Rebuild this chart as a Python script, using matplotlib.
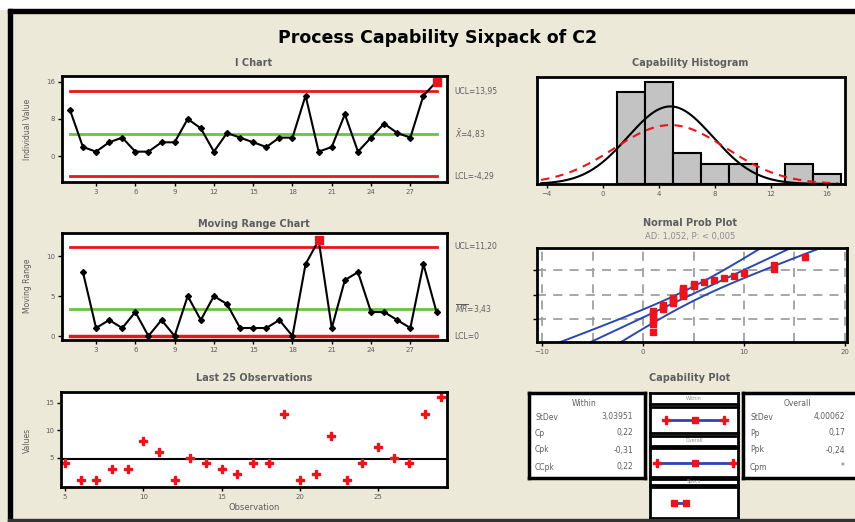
import numpy as np
import matplotlib.pyplot as plt
from matplotlib.patches import Rectangle
from statistics import NormalDist

# ----------------------------
# Data
# ----------------------------
values = [10, 2, 1, 3, 4, 1, 1, 3, 3, 8, 6, 1, 5, 4, 3, 2, 4, 4, 13, 1, 2, 9, 1, 4, 7, 5, 4, 13, 16]
lsl, usl = -2, 2
ad_text = 'AD: 1,052, P: < 0,005'

i_ticks = [0, 8, 16]
mr_ticks = [0, 5, 10]
obs_ticks = [3, 6, 9, 12, 15, 18, 21, 24, 27]
last_xticks = [5, 10, 15, 20, 25]
last_yticks = [5, 10, 15]
hist_ticks = [-4, 0, 4, 8, 12, 16]
npp_ticks = [-10, 0, 10, 20]
npp_grid_x = [-10, -5, 0, 5, 10, 15, 20]
npp_grid_p = [0.1, 0.5, 0.9]

# ----------------------------
# Statistics
# ----------------------------
x = np.array(values, dtype=float)
n = len(x)
obs = np.arange(1, n + 1)
mean = x.mean()
mr = np.abs(np.diff(x))
mr_bar = mr.mean()
ucl_i = mean + 2.66 * mr_bar
lcl_i = mean - 2.66 * mr_bar
ucl_mr = 3.267 * mr_bar
sd_w = mr_bar / 1.128
sd_o = x.std(ddof=1)


def fmt(v, d=2):
    return f"{v:.{d}f}".replace('.', ',')


cp = (usl - lsl) / (6 * sd_w)
cpk = min(usl - mean, mean - lsl) / (3 * sd_w)
target = (usl + lsl) / 2
ccpk = min(usl - target, target - lsl) / (3 * sd_w)
pp = (usl - lsl) / (6 * sd_o)
ppk = min(usl - mean, mean - lsl) / (3 * sd_o)
within_rows = [('StDev', fmt(sd_w, 5)), ('Cp', fmt(cp)), ('Cpk', fmt(cpk)), ('CCpk', fmt(ccpk))]
overall_rows = [('StDev', fmt(sd_o, 5)), ('Pp', fmt(pp)), ('Ppk', fmt(ppk)), ('Cpm', '*')]

# ----------------------------
# Figure
# ----------------------------
W, H = 855, 522
BG = '#ECE9D8'
RED = '#E8141E'
GREEN = '#6CC23F'
BLUE = '#2A48B0'
GRAY = '#5E5E5E'

fig = plt.figure(figsize=(W / 100, H / 100), dpi=100, facecolor=BG)


def box(l, t, r, b):
    return fig.add_axes([l / W, 1 - b / H, (r - l) / W, (b - t) / H])


def ftext(px, py, s, **kw):
    kw.setdefault('color', GRAY)
    kw.setdefault('fontsize', 5.5)
    return fig.text(px / W, 1 - py / H, s, **kw)


def style(ax, lw=2.0):
    for s in ax.spines.values():
        s.set_linewidth(lw)
        s.set_color('black')
    ax.tick_params(labelsize=5, labelcolor=GRAY, color='black', length=3, width=1, pad=2)


# outer frame
fig.patches.append(Rectangle((0, 1 - 9 / H), 1, 9 / H, transform=fig.transFigure, color='white', zorder=0))
fig.patches.append(Rectangle((8 / W, 1 - 13 / H), 1, 4 / H, transform=fig.transFigure, color='black', zorder=0))
fig.patches.append(Rectangle((8 / W, 0), 4 / W, 1 - 9 / H, transform=fig.transFigure, color='black', zorder=0))
fig.patches.append(Rectangle((8 / W, 0), 1, 3 / H, transform=fig.transFigure, color='#333333', zorder=0))

ftext(438, 38, 'Process Capability Sixpack of C2', fontsize=12.5, fontweight='bold',
      color='black', ha='center', va='center')

# ---- I Chart
ax1 = box(62, 76, 447, 182)
style(ax1)
ax1.plot([1, n], [ucl_i, ucl_i], color=RED, lw=2)
ax1.plot([1, n], [lcl_i, lcl_i], color=RED, lw=2)
ax1.plot([1, n], [mean, mean], color=GREEN, lw=2)
ax1.plot(obs, x, color='black', lw=1.5, marker='D', ms=3)
ooc = (x > ucl_i) | (x < lcl_i)
ax1.plot(obs[ooc], x[ooc], 's', color=RED, ms=6)
ax1.set_xlim(0.4, 29.8)
ax1.set_ylim(-5.5, 17.2)
ax1.set_xticks(obs_ticks)
ax1.set_yticks(i_ticks)
ytr = ax1.get_yaxis_transform()
ax1.text(1.02, ucl_i, 'UCL=' + fmt(ucl_i), transform=ytr, va='center', fontsize=5.5, color=GRAY)
ax1.text(1.02, mean, r'$\bar{X}$=' + fmt(mean), transform=ytr, va='center', fontsize=5.5, color=GRAY)
ax1.text(1.02, lcl_i, 'LCL=' + fmt(lcl_i), transform=ytr, va='center', fontsize=5.5, color=GRAY)
ftext(254, 63, 'I Chart', fontsize=7, fontweight='bold', ha='center', va='center')
ftext(27, 129, 'Individual Value', rotation=90, ha='center', va='center')

# ---- Moving Range Chart
ax2 = box(62, 233, 447, 340)
style(ax2)
ax2.plot([1, n], [ucl_mr, ucl_mr], color=RED, lw=2)
ax2.plot([1, n], [0, 0], color=RED, lw=2.5)
ax2.plot([1, n], [mr_bar, mr_bar], color=GREEN, lw=2)
ax2.plot(obs[1:], mr, color='black', lw=1.5, marker='D', ms=3)
ooc_mr = mr > ucl_mr
ax2.plot(obs[1:][ooc_mr], mr[ooc_mr], 's', color=RED, ms=6)
ax2.set_xlim(0.4, 29.8)
ax2.set_ylim(-0.5, 12.9)
ax2.set_xticks(obs_ticks)
ax2.set_yticks(mr_ticks)
ytr = ax2.get_yaxis_transform()
ax2.text(1.02, ucl_mr, 'UCL=' + fmt(ucl_mr), transform=ytr, va='center', fontsize=5.5, color=GRAY)
ax2.text(1.02, mr_bar, r'$\overline{MR}$=' + fmt(mr_bar), transform=ytr, va='center', fontsize=5.5, color=GRAY)
ax2.text(1.02, 0, 'LCL=0', transform=ytr, va='center', fontsize=5.5, color=GRAY)
ftext(254, 224, 'Moving Range Chart', fontsize=7, fontweight='bold', ha='center', va='center')
ftext(27, 286, 'Moving Range', rotation=90, ha='center', va='center')

# ---- Last 25 Observations
ax3 = box(61, 392, 447, 487)
style(ax3)
ax3.axhline(mean, color='black', lw=1.5)
ax3.plot(obs[-25:], x[-25:], 'P', color=RED, ms=6, mec=RED)
ax3.set_xlim(4.74, 29.4)
ax3.set_ylim(-0.3, 17)
ax3.set_xticks(last_xticks)
ax3.set_yticks(last_yticks)
ftext(254, 378, 'Last 25 Observations', fontsize=7, fontweight='bold', ha='center', va='center')
ftext(254, 507, 'Observation', fontsize=6, ha='center', va='center')
ftext(27, 440, 'Values', rotation=90, ha='center', va='center')

# ---- Capability Histogram
ax4 = box(537, 77, 845, 184)
style(ax4)
bins = np.arange(1, 18, 2)
ax4.hist(x, bins=bins, color='#C3C3C3', edgecolor='black', lw=1.5)
xs = np.linspace(-4.4, 16.8, 300)
scale = n * 2
pdf_w = np.array([NormalDist(mean, sd_w).pdf(v) for v in xs]) * scale
pdf_o = np.array([NormalDist(mean, sd_o).pdf(v) for v in xs]) * scale
ax4.plot(xs, pdf_w, color='black', lw=1.5)
ax4.plot(xs, pdf_o, color=RED, lw=1.5, ls=(0, (4, 3)))
ax4.set_xlim(-4.7, 17.3)
ax4.set_ylim(0, 10.5)
ax4.set_xticks(hist_ticks)
ax4.set_yticks([])
ftext(690, 63, 'Capability Histogram', fontsize=7, fontweight='bold', ha='center', va='center')

# ---- Normal Prob Plot
ax5 = box(537, 248, 847, 342)
style(ax5)
nd = NormalDist()
grid_z = [nd.inv_cdf(p) for p in npp_grid_p]
for gx in npp_grid_x:
    ax5.axvline(gx, color='#A0A0A0', lw=1.3, ls=(0, (5, 4)))
for gz in grid_z:
    ax5.axhline(gz, color='#A0A0A0', lw=1.3, ls=(0, (5, 4)))
z = np.linspace(-2.7, 2.7, 100)
fit = mean + sd_o * z
half = 1.96 * sd_o * np.sqrt(1 / n + z ** 2 / (2 * (n - 1)))
ax5.plot(fit, z, color=BLUE, lw=1.4)
ax5.plot(fit - half, z, color=BLUE, lw=1.4)
ax5.plot(fit + half, z, color=BLUE, lw=1.4)
zs = np.array([nd.inv_cdf((i - 0.3) / (n + 0.4)) for i in range(1, n + 1)])
ax5.plot(np.sort(x), zs, 's', color=RED, ms=4)
ax5.set_xlim(-10.5, 20.2)
ax5.set_ylim(-2.5, 2.45)
ax5.set_xticks(npp_ticks)
ax5.set_yticks(grid_z)
ax5.set_yticklabels([])
ftext(690, 223, 'Normal Prob Plot', fontsize=7, fontweight='bold', ha='center', va='center')
ftext(690, 236, ad_text, fontsize=6, ha='center', va='center', color='#8A8A8A')

# ---- Capability Plot
ftext(690, 378, 'Capability Plot', fontsize=7, fontweight='bold', ha='center', va='center')


def stat_box(l, r, title, rows, lab_x, val_x):
    ax = box(l, 393, r, 478)
    style(ax, 2.5)
    ax.set_xticks([])
    ax.set_yticks([])
    ftext((lab_x + val_x) / 2, 404, title, ha='center', va='center', fontsize=5.5)
    for (lab, val), py in zip(rows, [417, 433, 450, 467]):
        ftext(lab_x, py, lab, ha='left', va='center', fontsize=5.5)
        ftext(val_x, py, val, ha='right', va='center', fontsize=5.5)


stat_box(529, 645, 'Within', within_rows, 535, 633)
stat_box(743, 860, 'Overall', overall_rows, 750, 845)

cap_xlim = (-9.5, 18.5)
intervals = [
    ('Within', (393, 404), (407, 433), mean - 3 * sd_w, mean + 3 * sd_w, True),
    ('Overall', (436, 446), (448, 477), mean - 3 * sd_o, mean + 3 * sd_o, True),
    ('Specs', (479, 485), (487, 518), lsl, usl, False),
]
for lab, (lt, lb), (it, ib), lo, hi, mid in intervals:
    axl = box(650, lt, 738, lb)
    style(axl, 2)
    axl.set_xticks([])
    axl.set_yticks([])
    axl.text(0.5, 0.5, lab, transform=axl.transAxes, ha='center', va='center', fontsize=3.5, color='#909090')
    axi = box(650, it, 738, ib)
    style(axi, 2)
    axi.set_xticks([])
    axi.set_yticks([])
    axi.set_xlim(*cap_xlim)
    axi.set_ylim(-1, 1)
    axi.plot([lo, hi], [0, 0], color=BLUE, lw=2)
    if mid:
        axi.plot([lo, hi], [0, 0], 'P', color=RED, ms=6)
        axi.plot([mean], [0], 's', color=RED, ms=4)
    else:
        axi.plot([lo, hi], [0, 0], 's', color=RED, ms=4)

fig.savefig('out.png', dpi=100, facecolor=BG)
